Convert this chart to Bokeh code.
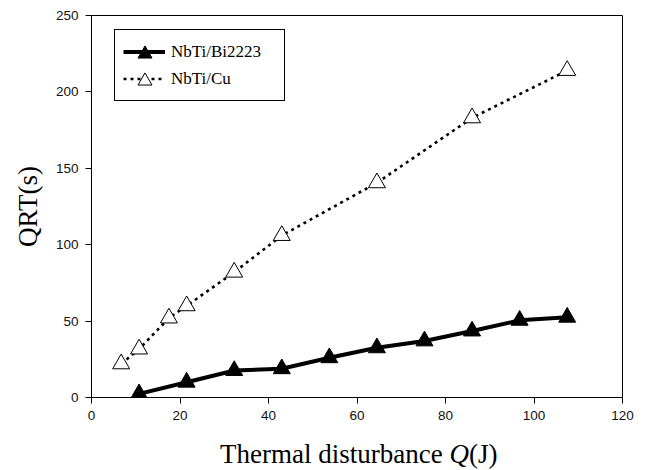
from bokeh.plotting import figure
from bokeh.models import Range1d, FixedTicker, Legend, LegendItem, Div
from bokeh.layouts import column
from bokeh.embed import file_html
from bokeh.resources import INLINE

# ---- data ----
q_bi = [10.75, 21.5, 32.25, 43.0, 53.75, 64.5, 75.25, 86.0, 96.75, 107.5]
qrt_bi = [2.4, 10.0, 17.6, 18.8, 26.0, 32.5, 37.0, 43.5, 50.5, 52.5]
q_cu = [6.7, 10.75, 17.5, 21.5, 32.25, 43.0, 64.5, 86.0, 107.5]
qrt_cu = [22.0, 31.7, 52.0, 60.0, 82.0, 106.0, 140.5, 183.0, 214.0]
x_ticks = [0, 20, 40, 60, 80, 100, 120]
y_ticks = [0, 50, 100, 150, 200, 250]
label_bi = "NbTi/Bi2223"
label_cu = "NbTi/Cu"
y_title = "QRT(s)"
x_title_html = "Thermal disturbance <i>Q</i>(J)"

SERIF = "Liberation Serif"
SANS = "Liberation Sans"

p = figure(width=649, height=440, x_range=Range1d(0, 120), y_range=Range1d(0, 250),
           output_backend="svg", toolbar_location=None,
           min_border_left=91, min_border_right=27, min_border_top=15, min_border_bottom=43)
p.xgrid.visible = False
p.ygrid.visible = False
p.outline_line_color = "black"
p.outline_line_width = 1
p.outline_line_alpha = 1
p.background_fill_color = "white"
p.border_fill_color = "white"

p.xaxis.ticker = FixedTicker(ticks=x_ticks)
p.yaxis.ticker = FixedTicker(ticks=y_ticks)
for ax in (p.xaxis[0], p.yaxis[0]):
    ax.axis_line_color = "black"
    ax.axis_line_width = 1
    ax.major_tick_line_color = "black"
    ax.major_tick_out = 6
    ax.major_tick_in = 0
    ax.minor_tick_line_color = None
    ax.major_label_text_font = SANS
    ax.major_label_text_font_size = "13.5px"
    ax.major_label_text_color = "#111111"
    ax.major_label_standoff = 7

ya = p.yaxis[0]
ya.axis_label = y_title
ya.axis_label_text_font = SERIF
ya.axis_label_text_font_size = "27px"
ya.axis_label_text_font_style = "normal"
ya.axis_label_text_color = "black"
ya.axis_label_standoff = 10

# ---- series ----
r_cu_line = p.line(q_cu, qrt_cu, line_color="black", line_width=2.6, line_dash="3 4")
r_cu_pts = p.scatter(q_cu, qrt_cu, marker="triangle", size=17, fill_color="white",
                     line_color="black", line_width=1)
r_bi_line = p.line(q_bi, qrt_bi, line_color="black", line_width=4, line_join="miter")
r_bi_pts = p.scatter(q_bi, qrt_bi, marker="triangle", size=17, fill_color="black",
                     line_color="black", line_width=1)

# ---- legend: box, lines and labels ----
legend = Legend(items=[LegendItem(label=label_bi, renderers=[r_bi_line]),
                       LegendItem(label=label_cu, renderers=[r_cu_line])],
                location=(23, 296), orientation="vertical",
                padding=8, spacing=0, margin=0,
                glyph_width=42, glyph_height=27, label_standoff=6, label_width=105,
                label_text_font=SERIF, label_text_font_size="17px", label_text_color="black",
                label_text_baseline="middle",
                border_line_color="black", border_line_width=1, border_line_alpha=1,
                background_fill_color="white", background_fill_alpha=1)
p.add_layout(legend)

# ---- legend markers (larger than the legend's default marker) ----
for rend, loc in ((r_bi_pts, (35.5, 326.5)), (r_cu_pts, (35.5, 299.5))):
    mk = Legend(items=[LegendItem(label=" ", renderers=[rend])],
                location=loc, orientation="vertical", padding=0, spacing=0, margin=0,
                glyph_width=35, glyph_height=35, label_standoff=0, label_width=0,
                label_text_font_size="1px",
                border_line_color=None, background_fill_alpha=0)
    p.add_layout(mk)

# ---- x axis title (with italic Q) ----
title_div = Div(text=('<div style="padding-left:215px; margin-top:-6px; '
                      'font-family:\'Liberation Serif\'; font-size:27px; line-height:30px; '
                      'white-space:nowrap; color:black;">'
                      + x_title_html + '</div>'),
                width=649, height=30)

layout = column(p, title_div, spacing=0)
open("out.html", "w").write(file_html(layout, INLINE))
